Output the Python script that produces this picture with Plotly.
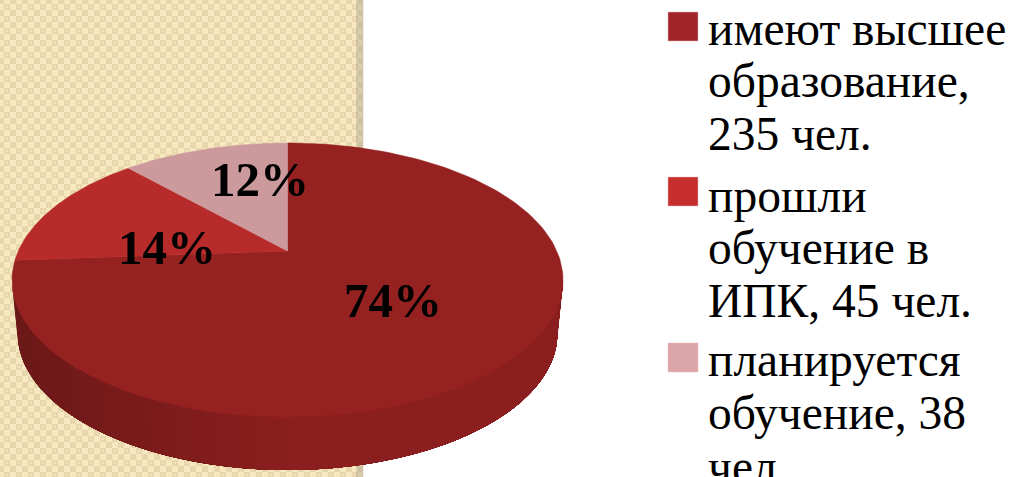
import numpy as np
import plotly.graph_objects as go

legend_lines = [
    ["имеют высшее", "образование,", "235 чел."],
    ["прошли", "обучение в", "ИПК, 45 чел."],
    ["планируется", "обучение, 38", "чел."],
]
people = [235, 45, 38]
percent_labels = ["74%", "14%", "12%"]
face_colors = ["#962121", "#b82b2b", "#cc9a9c"]
legend_colors = ["#a02528", "#c62e2e", "#dca5a7"]

W, H = 1013, 477
CX, CY, RX, RY = 287.5, 280.0, 275.5, 137.0
BOT_CY, BOT_RX = 333.0, 270.0
D = 29.0 / RY  # perspective shift of the pie centre


def project(theta):
    """theta clockwise from the top of the round pie, to the tilted top face."""
    x, y = np.sin(theta), np.cos(theta)
    k = 1 + D * y
    return CX + RX * x * np.sqrt(1 - D * D) / k, CY - RY * (y + D) / k


fig = go.Figure()

# panel background: 6px checks with a small light centre in every other dark check
step = 2
xs = np.arange(step / 2, 363, step)
ys = np.arange(step / 2, H + step, step)
z = np.zeros((len(ys), len(xs)))
for j, yy in enumerate(ys):
    for i, xx in enumerate(xs):
        mx, my = xx % 12, yy % 12
        in_x, in_y = 4 <= mx < 10, 4 <= my < 10
        if in_x and in_y:
            z[j, i] = 1 if (6 <= mx < 8 and 6 <= my < 8) else 2
        elif not in_x and not in_y:
            z[j, i] = 2
        else:
            z[j, i] = 0
        if xx > 356:
            z[j, i] = 3 if z[j, i] == 0 else 4
fig.add_trace(go.Heatmap(
    x=xs, y=ys, z=z, zmin=0, zmax=4, showscale=False, hoverinfo="skip",
    colorscale=[[0, "#f8e8c0"], [0.125, "#f8e8c0"], [0.125, "#f4e3bb"], [0.375, "#f4e3bb"],
                [0.375, "#e8d6ac"], [0.625, "#e8d6ac"], [0.625, "#d9ccab"], [0.875, "#d9ccab"],
                [0.875, "#ccc0a0"], [1, "#ccc0a0"]],
))
fig.add_shape(type="rect", x0=361.5, x1=363.3, y0=0, y1=H, fillcolor="#d2c6a6", line_width=0, layer="below")

# side wall, strips overlap to the right so no seams show
wall_t = np.linspace(-np.pi / 2, np.pi / 2, 71)
for t0 in wall_t[:-1]:
    tt = np.linspace(t0, np.pi / 2, 80)
    xt = CX + RX * np.sin(tt)
    yt = CY + RY * np.cos(tt)
    xb = CX + BOT_RX * np.sin(tt)
    yb = BOT_CY + RY * np.cos(tt)
    m = (np.sin(t0) + 1) / 2
    shade = min(m / 0.5, 1)
    r = int(0x6d + (0x8b - 0x6d) * shade)
    g = int(0x19 + (0x1f - 0x19) * shade)
    col = f"rgb({r},{g},{g})"
    fig.add_trace(go.Scatter(
        x=np.r_[xt, xb[::-1], xt[0]], y=np.r_[yt, yb[::-1], yt[0]], mode="lines",
        fill="toself", fillcolor=col, line=dict(color=col, width=0),
        hoverinfo="skip", showlegend=False))

# top face: the 74% wedge starts at the top and runs clockwise
total = sum(people)
start = 0.0
for v, c in zip(people, face_colors):
    sweep = 2 * np.pi * v / total
    tt = np.linspace(start, start + sweep, 160)
    px, py = project(tt)
    ax, ay = CX, CY - RY * D
    fig.add_trace(go.Scatter(
        x=np.r_[ax, px, ax], y=np.r_[ay, py, ay], mode="lines",
        fill="toself", fillcolor=c, line=dict(color=c, width=0.5),
        hoverinfo="skip", showlegend=False))
    start += sweep

# percent labels
label_x = [393, 167, 260]
label_y = [300, 247, 179]
for t, x, y in zip(percent_labels, label_x, label_y):
    fig.add_annotation(x=x, y=y, text=f"<b>{t}</b>", showarrow=False, xanchor="center", yanchor="middle",
                       font=dict(family="Liberation Serif", size=49, color="#000000"))

# legend: swatch tops and the baselines of each text line
swatch_top = [12, 177, 343]
line_base = [[43, 95, 148], [210, 262, 315], [374, 427, 481]]
for lines, col, top, bases in zip(legend_lines, legend_colors, swatch_top, line_base):
    fig.add_shape(type="rect", x0=668, x1=698, y0=top, y1=top + 29, fillcolor=col,
                  line=dict(color="#e8b8b8", width=0.5), layer="above")
    for text, base in zip(lines, bases):
        fig.add_annotation(x=705.5, y=base - 14, text=text, showarrow=False, xanchor="left", yanchor="middle",
                           align="left", font=dict(family="Liberation Serif", size=47.5, color="#000000"))

fig.update_layout(
    width=W, height=H, margin=dict(l=0, r=0, t=0, b=0), paper_bgcolor="#ffffff", plot_bgcolor="#ffffff",
    showlegend=False,
    xaxis=dict(range=[0, W], visible=False, fixedrange=True),
    yaxis=dict(range=[H, 0], visible=False, fixedrange=True),
)
fig.write_html("out.html", config=dict(displayModeBar=False),
               post_script="document.body.style.margin='0';document.body.style.overflow='hidden';")
